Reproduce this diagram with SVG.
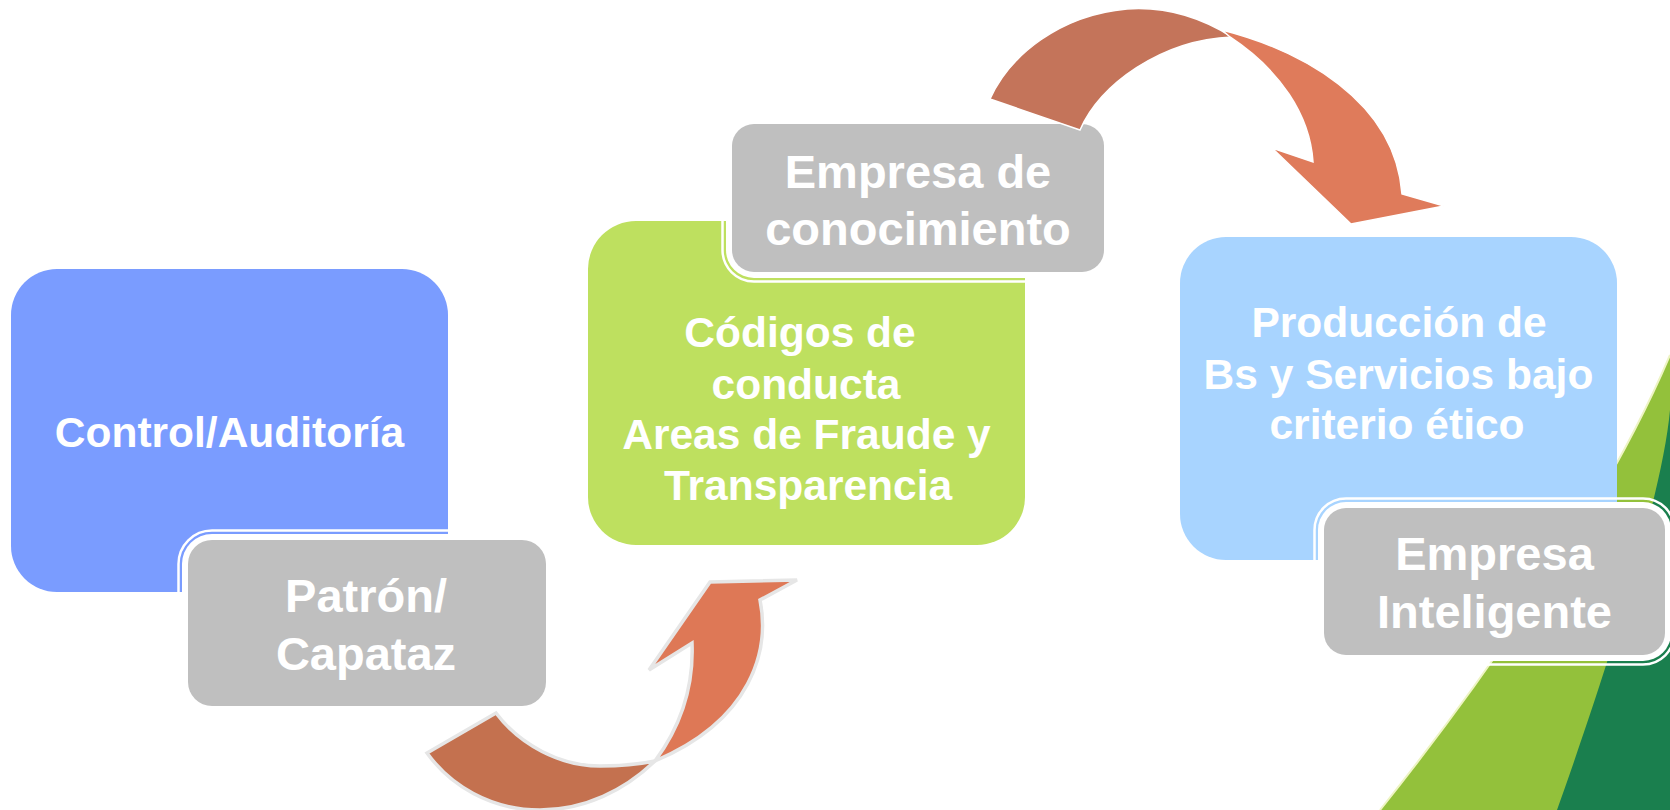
<svg xmlns="http://www.w3.org/2000/svg" width="1670" height="810" viewBox="0 0 1670 810">
<defs>
<style>
.t{font-family:"Liberation Sans",Arial,sans-serif;font-weight:bold;fill:#ffffff;text-anchor:middle}
.big{font-size:42.5px}
.gt{font-size:47px}
.grey{fill:#BFBFBF}
.halo{fill:#ffffff}
.ring{fill:none;stroke:#ffffff;stroke-width:2.5}
.adark{fill:#C4714F;stroke:#E6E6E6;stroke-width:3.5;stroke-linejoin:miter}
.alight{fill:#DE7856;stroke:#E6E6E6;stroke-width:3.5;stroke-linejoin:miter}
.tdark{fill:#C4745A;stroke:#ffffff;stroke-width:1.5}
.tlight{fill:#DF7B5B;stroke:#ffffff;stroke-width:1.5}
</style>
</defs>
<rect width="1670" height="810" fill="#ffffff"/>
<g id="background-swoosh">
<path d="M1670,355 C1630,450 1540,610 1380,810 L1670,810 Z" fill="#93C13B"/>
<path d="M1670,355 C1630,450 1540,610 1380,810" fill="none" stroke="#EEF4C4" stroke-width="2"/>
<path d="M1670,410 C1662,500 1600,690 1557,810 L1670,810 Z" fill="#1A7F4E"/>
</g>
<g id="node-control">
<rect x="11" y="269" width="437" height="323" rx="46" fill="#7A9CFF"/>
<text class="t big" x="229.5" y="447">Control/Auditoría</text>
</g>
<g id="node-patron">
<rect class="ring" x="178.5" y="530.5" width="377" height="185" rx="33.5"/>
<rect class="halo" x="182" y="534" width="370" height="178" rx="30"/>
<rect class="grey" x="188" y="540" width="358" height="166" rx="24"/>
<text class="t gt" x="366" y="612">Patrón/</text>
<text class="t gt" x="366" y="669.5">Capataz</text>
</g>
<g id="node-codigos">
<rect x="588" y="221" width="437" height="324" rx="48" fill="#BEE05F"/>
<text class="t big" x="800" y="347">Códigos de</text>
<text class="t big" x="806" y="398.5">conducta</text>
<text class="t big" x="806.5" y="449">Areas de Fraude y</text>
<text class="t big" x="808" y="500">Transparencia</text>
</g>
<g id="node-conocimiento">
<rect class="ring" x="722.5" y="114.5" width="391" height="167" rx="31.5"/>
<rect class="halo" x="726" y="118" width="384" height="160" rx="28"/>
<rect class="grey" x="732" y="124" width="372" height="148" rx="22"/>
<text class="t gt" x="918" y="187.5">Empresa de</text>
<text class="t gt" x="918" y="245">conocimiento</text>
</g>
<g id="node-produccion">
<rect x="1180" y="237" width="437" height="323" rx="46" fill="#A8D4FF"/>
<text class="t big" x="1399" y="337">Producción de</text>
<text class="t big" x="1398.5" y="388.5">Bs y Servicios bajo</text>
<text class="t big" x="1397" y="438.5">criterio ético</text>
</g>
<g id="node-inteligente">
<rect class="ring" x="1314.5" y="498.5" width="360" height="166" rx="31.5"/>
<rect class="halo" x="1318" y="502" width="353" height="159" rx="28"/>
<rect class="grey" x="1324" y="508" width="341" height="147" rx="22"/>
<text class="t gt" x="1494.5" y="570">Empresa</text>
<text class="t gt" x="1494.5" y="628">Inteligente</text>
</g>
<g id="connectors">
<g id="arrow-bottom">
<path class="adark" d="M427,753 L496,713 C520,745 560,766 600,766 C625,766 645,763 655,761 C625,790 585,810 540,810 C490,810 450,785 427,753 Z"/>
<path class="alight" d="M655,761 C678,730 694,690 692,643 L649,670 L710,582 L797,580 L760,600 C770,650 752,720 655,761 Z"/>
</g>
<g id="arrow-top">
<path class="tdark" d="M990,99 C1010,55 1060,15 1127,9 C1170,6 1205,20 1232,37 C1160,40 1100,85 1080,130 Z"/>
<path class="tlight" d="M1222,30 C1300,50 1395,100 1402,194 L1444,206 L1351,224 L1272,148 L1313,162 C1310,115 1280,70 1230,37 Z"/>
</g>
</g>
</svg>
